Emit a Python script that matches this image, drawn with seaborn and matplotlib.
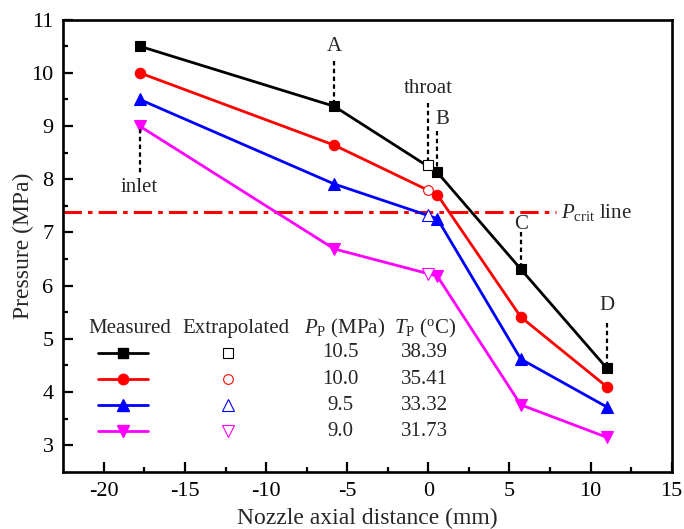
import numpy as np
import pandas as pd
import seaborn as sns
import matplotlib.pyplot as plt
from matplotlib.lines import Line2D

# measured positions along the nozzle (mm)
x_pos = [-17.8, -5.8, 0.55, 5.7, 11.0]
x_throat = 0.0

# measured pressures (MPa) for each primary pressure
p_105 = [10.5, 9.37, 8.13, 6.31, 4.45]
p_100 = [10.0, 8.64, 7.71, 5.41, 4.10]
p_095 = [9.5, 7.91, 7.26, 4.62, 3.72]
p_090 = [9.0, 6.69, 6.18, 3.76, 3.15]

# extrapolated throat pressures (MPa)
p_throat = [8.27, 7.79, 7.33, 6.22]

pp_labels = ['10.5', '10.0', '9.5', '9.0']
tp_labels = ['38.39', '35.41', '33.32', '31.73']
p_crit = 7.377

colors = ['black', 'red', 'blue', 'magenta']
markers = ['s', 'o', '^', 'v']
msizes = [6.5, 7.5, 8.5, 8.5]
open_sizes = [6.5, 7, 8, 8]

series = [p_105, p_100, p_095, p_090]

sns.set_theme(style='ticks')
plt.rcParams['font.family'] = ['Liberation Serif', 'DejaVu Serif']
plt.rcParams['mathtext.fontset'] = 'custom'
plt.rcParams['mathtext.rm'] = 'Liberation Serif'
plt.rcParams['mathtext.it'] = 'Liberation Serif:italic'
plt.rcParams['axes.unicode_minus'] = False

fs = 15

fig = plt.figure(figsize=(6.84, 5.29), dpi=100)
ax = fig.add_axes([0.0925, 0.108, 0.8895, 0.855])

for vals, c, m, ms in zip(series, colors, markers, msizes):
    sns.lineplot(x=x_pos, y=vals, ax=ax, color=c, marker=m, markersize=ms,
                 mec=c, mew=0.8, lw=2.0, legend=False)

for pt, c, m, ms in zip(p_throat, colors, markers, open_sizes):
    ax.plot([x_throat], [pt], ls='none', marker=m, ms=ms, mfc='white',
            mec=c, mew=0.8, zorder=4)

# critical pressure line
ax.hlines(p_crit, -22.5, 7.9, color='red', lw=2.2, linestyles=[(0, (6, 2, 1.5, 2))], zorder=1)
ax.text(8.15, p_crit, r'$P_{\mathrm{crit}}$ line', fontsize=fs, va='center', ha='left')

# point labels with dotted leaders
dot = dict(color='black', lw=1.6, ls=(0, (2, 1.5)))
ax.plot([x_pos[0], x_pos[0]], [8.94, 8.09], **dot)
ax.text(x_pos[0], 7.84, 'inlet', fontsize=fs, ha='center', va='center')
ax.plot([x_pos[1], x_pos[1]], [10.22, 9.44], **dot)
ax.text(x_pos[1], 10.5, 'A', fontsize=fs, ha='center', va='center')
ax.plot([x_throat, x_throat], [9.44, 8.32], **dot)
ax.text(x_throat, 9.7, 'throat', fontsize=fs, ha='center', va='center')
ax.plot([x_pos[2], x_pos[2]], [8.9, 8.2], **dot)
ax.text(0.85, 9.13, 'B', fontsize=fs, ha='center', va='center')
ax.plot([x_pos[3], x_pos[3]], [7.0, 6.38], **dot)
ax.text(x_pos[3], 7.15, 'C', fontsize=fs, ha='center', va='center')
ax.plot([x_pos[4], x_pos[4]], [5.3, 4.52], **dot)
ax.text(x_pos[4], 5.62, 'D', fontsize=fs, ha='center', va='center')

ax.set_xlim(-22.5, 15)
ax.set_ylim(2.5, 11)
ax.set_xticks(np.arange(-20, 16, 5))
ax.set_xticks(np.arange(-17.5, 15, 5), minor=True)
ax.set_yticks(np.arange(3, 12, 1))
ax.set_yticks(np.arange(3.5, 11, 1), minor=True)
ax.tick_params(which='both', direction='in', width=1.6, labelsize=16, pad=7,
               top=False, right=False, colors='black')
ax.tick_params(which='major', length=7)
ax.tick_params(which='minor', length=3.5)
for s in ax.spines.values():
    s.set_linewidth(1.9)
    s.set_color('black')
ax.set_xlabel('Nozzle axial distance (mm)', fontsize=17, labelpad=5)
ax.set_ylabel('Pressure (MPa)', fontsize=17, labelpad=-2)

# table-style legend
row_y = [0.263, 0.204, 0.1475, 0.090]
hdr_y = 0.317
ax.text(0.110, hdr_y, 'Measured', transform=ax.transAxes, fontsize=fs, ha='center', va='center')
ax.text(0.284, hdr_y, 'Extrapolated', transform=ax.transAxes, fontsize=fs, ha='center', va='center')
ax.text(0.463, hdr_y, r'$P_{\mathrm{P}}$ (MPa)', transform=ax.transAxes, fontsize=fs, ha='center', va='center')
ax.text(0.594, hdr_y, r'$T_{\mathrm{P}}$ ($^{\mathrm{o}}$C)', transform=ax.transAxes, fontsize=fs, ha='center', va='center')
for ry, pp, tp in zip(row_y, pp_labels, tp_labels):
    ax.text(0.455, ry, pp, transform=ax.transAxes, fontsize=fs, ha='center', va='center')
    ax.text(0.593, ry, tp, transform=ax.transAxes, fontsize=fs, ha='center', va='center')

h_meas = [Line2D([], [], color=c, marker=m, ms=ms, mec=c, lw=2.0)
          for c, m, ms in zip(colors, markers, msizes)]
h_ext = [Line2D([], [], ls='none', marker=m, ms=ms, mfc='white', mec=c, mew=0.8)
         for c, m, ms in zip(colors, markers, open_sizes)]
leg = ax.legend(h_meas + h_ext, [''] * 8, ncol=2, frameon=False,
                handlelength=2.57, handletextpad=0, columnspacing=2.83,
                labelspacing=0.43, borderpad=0, borderaxespad=0,
                loc='upper left', bbox_to_anchor=(0.0575, 0.278), fontsize=14)

fig.savefig('out.png', dpi=100)
